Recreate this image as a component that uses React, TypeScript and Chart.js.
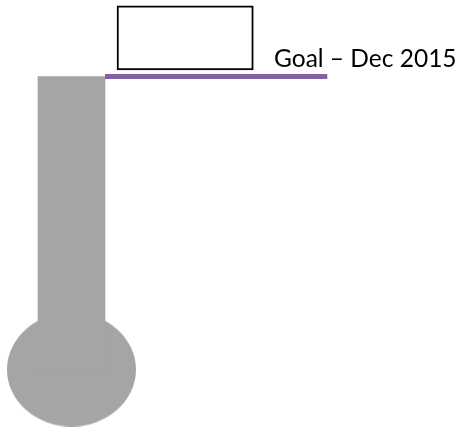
import React, { useEffect, useRef } from "react";
import { Chart, registerables } from "chart.js";

Chart.register(...registerables);

// ---- data ----
const GOAL_LABEL = "Goal – Dec 2015";
const GOAL_VALUE = [100];
const CURRENT_VALUE = [100];
const BASE_VALUE = [0];
const VALUE_BOX = [102.2, 124.15]; // empty value box (in value units)

// ---- layout / style constants ----
const W = 468;
const H = 427;
const Y_MIN = -19.62;
const Y_MAX = 126.1;
const TUBE_X = 71.5;
const TUBE_WIDTH = 67;
const BULB_RX = 64.5;
const BULB_RY = 57;
const BOX_X = 185.15;
const BOX_WIDTH = 136.3;
const GOAL_LINE_END = 327.3;
const LABEL_X = 274;
const LABEL_OFFSET = 9.8;
const GRAY = "#A5A5A5";
const PURPLE = "#8064A2";

function makeBulb(): HTMLCanvasElement {
  const c = document.createElement("canvas");
  c.width = Math.ceil(BULB_RX * 2);
  c.height = Math.ceil(BULB_RY * 2);
  const g = c.getContext("2d")!;
  g.fillStyle = GRAY;
  g.beginPath();
  g.ellipse(c.width / 2, c.height / 2, BULB_RX, BULB_RY, 0, 0, Math.PI * 2);
  g.fill();
  return c;
}

const labelPlugin = {
  id: "goalLabel",
  afterDatasetsDraw(chart: any) {
    const { ctx, scales } = chart;
    const y = scales.y.getPixelForValue(GOAL_VALUE[0]) - LABEL_OFFSET;
    ctx.save();
    ctx.font = "24.5px Lato, 'Open Sans', sans-serif";
    ctx.fillStyle = "#000000";
    ctx.textAlign = "left";
    ctx.textBaseline = "alphabetic";
    ctx.fillText(GOAL_LABEL, LABEL_X, y);
    ctx.restore();
  },
};

export default function App() {
  const ref = useRef<HTMLCanvasElement | null>(null);

  useEffect(() => {
    if (!ref.current) return;
    const bulb = makeBulb();
    const chart = new Chart(ref.current, {
      type: "bar",
      data: {
        datasets: [
          {
            type: "line",
            label: "Goal",
            data: [
              { x: TUBE_X + TUBE_WIDTH / 2, y: GOAL_VALUE[0] },
              { x: GOAL_LINE_END, y: GOAL_VALUE[0] },
            ],
            borderColor: PURPLE,
            borderWidth: 5,
            pointRadius: 0,
            fill: false,
          } as any,
          {
            type: "bar",
            label: "Current",
            data: [{ x: TUBE_X, y: [BASE_VALUE[0], CURRENT_VALUE[0]] }],
            backgroundColor: GRAY,
            borderWidth: 0,
            barThickness: TUBE_WIDTH,
            grouped: false,
          } as any,
          {
            type: "scatter",
            label: "Bulb",
            data: [{ x: TUBE_X, y: BASE_VALUE[0] }],
            pointStyle: bulb,
            pointRadius: BULB_RX,
            clip: false,
          } as any,
          {
            type: "bar",
            label: "Value box",
            data: [{ x: BOX_X, y: VALUE_BOX }],
            backgroundColor: "#FFFFFF",
            borderColor: "#000000",
            borderWidth: 2,
            borderSkipped: false,
            barThickness: BOX_WIDTH,
            grouped: false,
          } as any,
        ],
      },
      options: {
        responsive: false,
        animation: false,
        devicePixelRatio: 1,
        layout: { padding: 0, autoPadding: false },
        plugins: {
          legend: { display: false },
          tooltip: { enabled: false },
        },
        scales: {
          x: {
            type: "linear",
            min: 0,
            max: W,
            offset: false,
            display: false,
          },
          y: {
            type: "linear",
            min: Y_MIN,
            max: Y_MAX,
            display: false,
          },
        },
      } as any,
      plugins: [labelPlugin],
    });
    return () => chart.destroy();
  }, []);

  return (
    <div style={{ position: "absolute", left: 0, top: 0, width: W, height: H, background: "#fff" }}>
      <canvas ref={ref} width={W} height={H} style={{ display: "block" }} />
    </div>
  );
}
